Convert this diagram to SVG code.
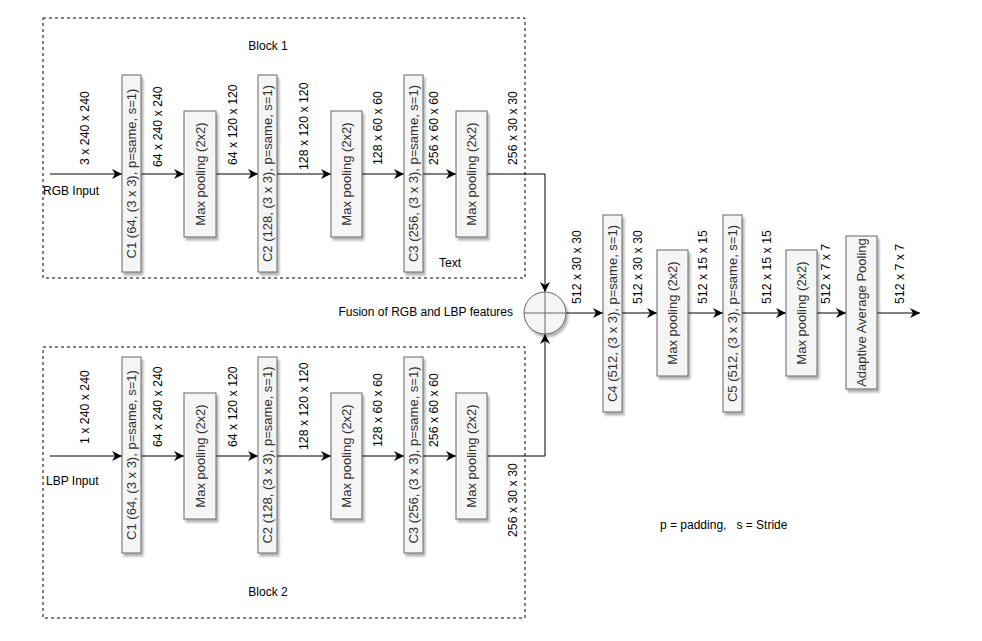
<svg xmlns="http://www.w3.org/2000/svg" width="982" height="641" viewBox="0 0 982 641">
<defs>
<filter id="sh" x="-30%" y="-10%" width="160%" height="130%">
<feGaussianBlur in="SourceAlpha" stdDeviation="1.2"/>
<feOffset dx="2" dy="3" result="b"/>
<feComponentTransfer><feFuncA type="linear" slope="0.3"/></feComponentTransfer>
<feMerge><feMergeNode/><feMergeNode in="SourceGraphic"/></feMerge>
</filter>
<marker id="ar" viewBox="0 0 10 10" refX="10" refY="5" markerWidth="10" markerHeight="10" markerUnits="userSpaceOnUse" orient="auto">
<path d="M0,0 L10,5 L0,10 L3,5 Z" fill="#000"/>
</marker>
</defs>
<style>
text{font-family:"Liberation Sans",Arial,sans-serif;font-size:12px;fill:#000}
.bx{fill:#f5f5f5;stroke:#666;stroke-width:1;filter:url(#sh)}
.bt{fill:#333;font-size:13px;text-anchor:middle;dominant-baseline:central}
.dim{dominant-baseline:central;font-size:12.3px}
.ln{fill:none;stroke:#000;stroke-width:1}
.dash{fill:none;stroke:#000;stroke-width:1;stroke-dasharray:3 3}
</style>
<rect width="982" height="641" fill="#fff"/>
<g id="block1">
<rect class="dash" x="43" y="18" width="482" height="260"/>
<text x="268" y="50" text-anchor="middle">Block 1</text>
<text x="450" y="267" text-anchor="middle">Text</text>
</g>
<g id="block2">
<rect class="dash" x="43" y="347" width="482" height="271"/>
<text x="268" y="596" text-anchor="middle">Block 2</text>
</g>
<g id="connectors">
<line class="ln" x1="50" y1="174" x2="122" y2="174" marker-end="url(#ar)"/>
<line class="ln" x1="141" y1="174" x2="184" y2="174" marker-end="url(#ar)"/>
<line class="ln" x1="216" y1="174" x2="258" y2="174" marker-end="url(#ar)"/>
<line class="ln" x1="277" y1="174" x2="331" y2="174" marker-end="url(#ar)"/>
<line class="ln" x1="362" y1="174" x2="404" y2="174" marker-end="url(#ar)"/>
<line class="ln" x1="423" y1="174" x2="456" y2="174" marker-end="url(#ar)"/>
<path class="ln" d="M487,174 H545 V292" marker-end="url(#ar)"/>
<line class="ln" x1="50" y1="456" x2="122" y2="456" marker-end="url(#ar)"/>
<line class="ln" x1="141" y1="456" x2="184" y2="456" marker-end="url(#ar)"/>
<line class="ln" x1="216" y1="456" x2="258" y2="456" marker-end="url(#ar)"/>
<line class="ln" x1="277" y1="456" x2="331" y2="456" marker-end="url(#ar)"/>
<line class="ln" x1="362" y1="456" x2="404" y2="456" marker-end="url(#ar)"/>
<line class="ln" x1="423" y1="456" x2="456" y2="456" marker-end="url(#ar)"/>
<path class="ln" d="M487,456 H545 V334" marker-end="url(#ar)"/>
<line class="ln" x1="566" y1="313" x2="603" y2="313" marker-end="url(#ar)"/>
<line class="ln" x1="622" y1="313" x2="657" y2="313" marker-end="url(#ar)"/>
<line class="ln" x1="688" y1="313" x2="723" y2="313" marker-end="url(#ar)"/>
<line class="ln" x1="742" y1="313" x2="786" y2="313" marker-end="url(#ar)"/>
<line class="ln" x1="817" y1="313" x2="846" y2="313" marker-end="url(#ar)"/>
<line class="ln" x1="877" y1="313" x2="920" y2="313" marker-end="url(#ar)"/>
</g>
<g id="labels">
<text x="43" y="195">RGB Input</text>
<text x="46" y="485">LBP Input</text>
<text x="513" y="316" text-anchor="end">Fusion of RGB and LBP features</text>
<text x="660" y="529" xml:space="preserve" style="white-space:pre">p = padding,   s = Stride</text>
<text class="dim" transform="translate(85,165) rotate(-90)">3 x 240 x 240</text>
<text class="dim" transform="translate(158,167) rotate(-90)">64 x 240 x 240</text>
<text class="dim" transform="translate(233,165) rotate(-90)">64 x 120 x 120</text>
<text class="dim" transform="translate(304,170) rotate(-90)">128 x 120 x 120</text>
<text class="dim" transform="translate(378,165) rotate(-90)">128 x 60 x 60</text>
<text class="dim" transform="translate(434,165) rotate(-90)">256 x 60 x 60</text>
<text class="dim" transform="translate(513,165) rotate(-90)">256 x 30 x 30</text>
<text class="dim" transform="translate(85,444) rotate(-90)">1 x 240 x 240</text>
<text class="dim" transform="translate(158,447) rotate(-90)">64 x 240 x 240</text>
<text class="dim" transform="translate(233,447) rotate(-90)">64 x 120 x 120</text>
<text class="dim" transform="translate(304,450) rotate(-90)">128 x 120 x 120</text>
<text class="dim" transform="translate(378,447) rotate(-90)">128 x 60 x 60</text>
<text class="dim" transform="translate(434,447) rotate(-90)">256 x 60 x 60</text>
<text class="dim" transform="translate(513,537) rotate(-90)">256 x 30 x 30</text>
<text class="dim" transform="translate(577,304) rotate(-90)">512 x 30 x 30</text>
<text class="dim" transform="translate(638,304) rotate(-90)">512 x 30 x 30</text>
<text class="dim" transform="translate(703,304) rotate(-90)">512 x 15 x 15</text>
<text class="dim" transform="translate(767,304) rotate(-90)">512 x 15 x 15</text>
<text class="dim" transform="translate(826,304) rotate(-90)">512 x 7 x 7</text>
<text class="dim" transform="translate(900,304) rotate(-90)">512 x 7 x 7</text>
</g>
<g id="c1-rgb"><rect class="bx" x="122" y="75" width="19" height="197"/><text class="bt" transform="translate(131.5,173.5) rotate(-90)">C1 (64, (3 x 3), p=same, s=1)</text></g>
<g id="mp1-rgb"><rect class="bx" x="184" y="111" width="32" height="126"/><text class="bt" transform="translate(200,174) rotate(-90)">Max pooling (2x2)</text></g>
<g id="c2-rgb"><rect class="bx" x="258" y="75" width="19" height="197"/><text class="bt" transform="translate(267.5,173.5) rotate(-90)">C2 (128, (3 x 3), p=same, s=1)</text></g>
<g id="mp2-rgb"><rect class="bx" x="331" y="111" width="31" height="126"/><text class="bt" transform="translate(346.5,174) rotate(-90)">Max pooling (2x2)</text></g>
<g id="c3-rgb"><rect class="bx" x="404" y="75" width="19" height="197"/><text class="bt" transform="translate(413.5,173.5) rotate(-90)">C3 (256, (3 x 3), p=same, s=1)</text></g>
<g id="mp3-rgb"><rect class="bx" x="456" y="111" width="31" height="126"/><text class="bt" transform="translate(471.5,174) rotate(-90)">Max pooling (2x2)</text></g>
<g id="c1-lbp"><rect class="bx" x="122" y="357" width="19" height="196"/><text class="bt" transform="translate(131.5,455) rotate(-90)">C1 (64, (3 x 3), p=same, s=1)</text></g>
<g id="mp1-lbp"><rect class="bx" x="184" y="393" width="32" height="126"/><text class="bt" transform="translate(200,456) rotate(-90)">Max pooling (2x2)</text></g>
<g id="c2-lbp"><rect class="bx" x="258" y="357" width="19" height="196"/><text class="bt" transform="translate(267.5,455) rotate(-90)">C2 (128, (3 x 3), p=same, s=1)</text></g>
<g id="mp2-lbp"><rect class="bx" x="331" y="393" width="31" height="126"/><text class="bt" transform="translate(346.5,456) rotate(-90)">Max pooling (2x2)</text></g>
<g id="c3-lbp"><rect class="bx" x="404" y="357" width="19" height="196"/><text class="bt" transform="translate(413.5,455) rotate(-90)">C3 (256, (3 x 3), p=same, s=1)</text></g>
<g id="mp3-lbp"><rect class="bx" x="456" y="393" width="31" height="126"/><text class="bt" transform="translate(471.5,456) rotate(-90)">Max pooling (2x2)</text></g>
<g id="fusion"><circle class="bx" cx="545" cy="313" r="21"/><path d="M524,313 H566 M545,292 V334" stroke="#666" stroke-width="1"/></g>
<g id="c4"><rect class="bx" x="603" y="215" width="19" height="197"/><text class="bt" transform="translate(612.5,313.5) rotate(-90)">C4 (512, (3 x 3), p=same, s=1)</text></g>
<g id="mp4"><rect class="bx" x="657" y="250" width="31" height="126"/><text class="bt" transform="translate(672.5,313) rotate(-90)">Max pooling (2x2)</text></g>
<g id="c5"><rect class="bx" x="723" y="215" width="19" height="197"/><text class="bt" transform="translate(732.5,313.5) rotate(-90)">C5 (512, (3 x 3), p=same, s=1)</text></g>
<g id="mp5"><rect class="bx" x="786" y="250" width="31" height="126"/><text class="bt" transform="translate(801.5,313) rotate(-90)">Max pooling (2x2)</text></g>
<g id="aap"><rect class="bx" x="846" y="236" width="31" height="153"/><text class="bt" transform="translate(861.5,312.5) rotate(-90)">Adaptive Average Pooling</text></g>
</svg>
